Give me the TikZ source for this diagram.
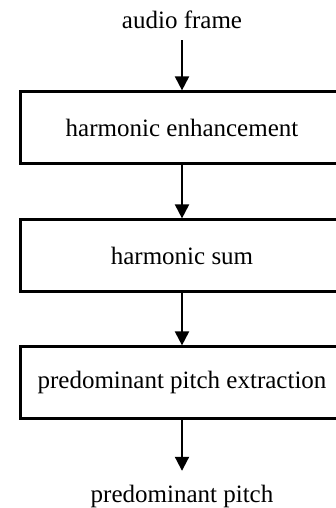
\documentclass[tikz,border=0pt]{standalone}
\usepackage{fontspec}
\setmainfont{Liberation Serif}
\usetikzlibrary{arrows.meta}
\begin{document}
\begin{tikzpicture}[x=1pt,y=-1pt,
  stagebox/.style={draw, line width=2.2pt, minimum width=323pt, minimum height=72pt,
    inner sep=0pt, font=\fontsize{25}{30}\selectfont},
  label/.style={inner sep=0pt, text depth=0pt, font=\fontsize{25}{30}\selectfont},
  flow/.style={line width=2pt, -{Triangle[width=14pt,length=14pt]}}]
  \useasboundingbox (0,0) rectangle (336,508);
  \clip (0,0) rectangle (336,508);
  % input and output labels
  \node[label, anchor=base] (in) at (182,29) {audio frame};
  \node[label, anchor=base, text height=17pt] (out) at (182,502) {predominant pitch};
  % processing stages
  \node[stagebox] (enh) at (182,127.5) {harmonic enhancement};
  \node[stagebox] (sum) at (182,255.5) {harmonic sum};
  \node[stagebox] (ext) at (182,382.5) {predominant pitch extraction};
  % connectors
  \draw[flow] ([yshift=-11pt]in.south) -- (enh.north);
  \draw[flow] (enh.south) -- (sum.north);
  \draw[flow] (sum.south) -- (ext.north);
  \draw[flow, shorten >=14pt] (ext.south) -- (out.north);
\end{tikzpicture}
\end{document}
